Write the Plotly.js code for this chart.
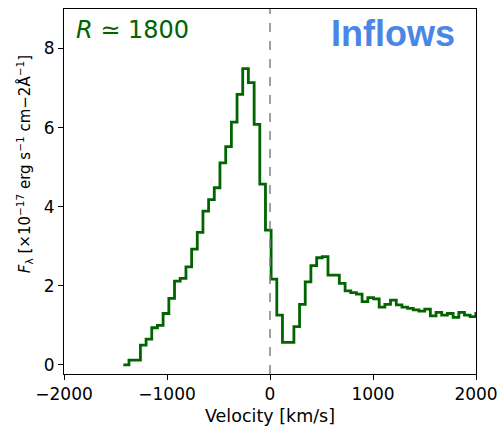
<!DOCTYPE html>
<html>
<head>
<meta charset="utf-8">
<script src="https://cdn.plot.ly/plotly-3.0.1.min.js"></script>
<style>
html,body{margin:0;padding:0;background:#fff;}
#chart{width:499px;height:428px;}
</style>
</head>
<body>
<div id="chart"></div>
<script>
// Left bin edges of the spectrum (km/s)
const velocity = [
  -1424, -1369, -1314, -1258, -1203, -1148, -1093, -1038, -982, -927,
  -872, -816, -761, -706, -651, -596, -541, -486, -430, -375,
  -320, -265, -210, -154, -99, -44, 11, 66, 121, 177,
  232, 287, 342, 397, 453, 508, 563, 618, 673, 729,
  784, 839, 894, 950, 1005, 1060, 1115, 1170, 1226, 1281,
  1336, 1391, 1446, 1502, 1557, 1612, 1667, 1722, 1778, 1833,
  1888, 1943, 1998, 2053
];
// Flux density (1e-17 erg/s/cm2/A)
const flux = [
  0.00, 0.12, 0.12, 0.50, 0.65, 0.94, 1.00, 1.30, 1.68, 2.12,
  2.19, 2.48, 2.93, 3.35, 3.89, 4.18, 4.48, 5.11, 5.52, 6.14,
  6.84, 7.49, 7.14, 6.08, 4.57, 3.41, 2.17, 1.26, 0.57, 0.57,
  0.97, 1.53, 2.10, 2.51, 2.71, 2.74, 2.27, 2.27, 2.06, 1.87,
  1.83, 1.79, 1.60, 1.70, 1.67, 1.46, 1.53, 1.64, 1.52, 1.46,
  1.43, 1.39, 1.36, 1.41, 1.24, 1.33, 1.26, 1.30, 1.20, 1.33,
  1.26, 1.22, 1.30, 1.30
];
const xTicks = [-2000, -1000, 0, 1000, 2000];
const xTickText = ['\u22122000', '\u22121000', '0', '1000', '2000'];
const yTicks = [0, 2, 4, 6, 8];
const xRange = [-2000, 2000];
const yRange = [-0.23, 9.0];

const FONT = 'DejaVu Sans, sans-serif';

const trace = {
  x: velocity,
  y: flux,
  type: 'scatter',
  mode: 'lines',
  line: {shape: 'hv', color: '#006400', width: 2.8},
  hoverinfo: 'skip'
};

const layout = {
  width: 499,
  height: 428,
  margin: {l: 64, r: 23, t: 9, b: 54},
  paper_bgcolor: '#ffffff',
  plot_bgcolor: '#ffffff',
  showlegend: false,
  font: {family: FONT, size: 17, color: '#000'},
  xaxis: {
    range: xRange,
    tickvals: xTicks,
    ticktext: xTickText,
    ticks: 'outside',
    ticklen: 5,
    tickwidth: 1,
    tickcolor: '#000',
    showgrid: false,
    zeroline: false,
    showline: true,
    linecolor: '#000',
    linewidth: 1,
    mirror: true,
    tickfont: {family: FONT, size: 17, color: '#000'},
    title: {text: 'Velocity [km/s]', font: {family: FONT, size: 17.5, color: '#000'}, standoff: 6}
  },
  yaxis: {
    range: yRange,
    tickvals: yTicks,
    ticks: 'outside',
    ticklen: 5,
    tickwidth: 1,
    tickcolor: '#000',
    showgrid: false,
    zeroline: false,
    showline: true,
    linecolor: '#000',
    linewidth: 1,
    mirror: true,
    tickfont: {family: FONT, size: 17, color: '#000'}
  },
  shapes: [{
    type: 'line', xref: 'x', yref: 'paper',
    x0: 0, x1: 0, y0: 0, y1: 1,
    line: {color: '#808080', width: 1.5, dash: 'dash'}
  }],
  annotations: [
    {
      xref: 'paper', yref: 'paper', x: 0.025, y: 0.985,
      xanchor: 'left', yanchor: 'top', showarrow: false,
      text: '<i>R</i> \u2243 1800',
      font: {family: FONT, size: 24, color: '#006400'}
    },
    {
      xref: 'paper', yref: 'paper', x: 0.955, y: 0.995,
      xanchor: 'right', yanchor: 'top', showarrow: false,
      text: '<b>Inflows</b>',
      font: {family: 'Liberation Sans, Arial, sans-serif', size: 36, color: '#4a86e8'}
    },
    {
      xref: 'paper', yref: 'paper', x: -0.097, y: 0.575,
      xanchor: 'center', yanchor: 'middle', showarrow: false,
      textangle: -90,
      text: '<i>F</i><sub>\u03bb</sub> [\u00d710<sup>\u221217</sup> erg s<sup>\u22121</sup> cm\u22122\u00c5<sup>\u22121</sup>]',
      font: {family: FONT, size: 15, color: '#000'}
    }
  ]
};

Plotly.newPlot('chart', [trace], layout, {displayModeBar: false, staticPlot: true});
</script>
</body>
</html>
